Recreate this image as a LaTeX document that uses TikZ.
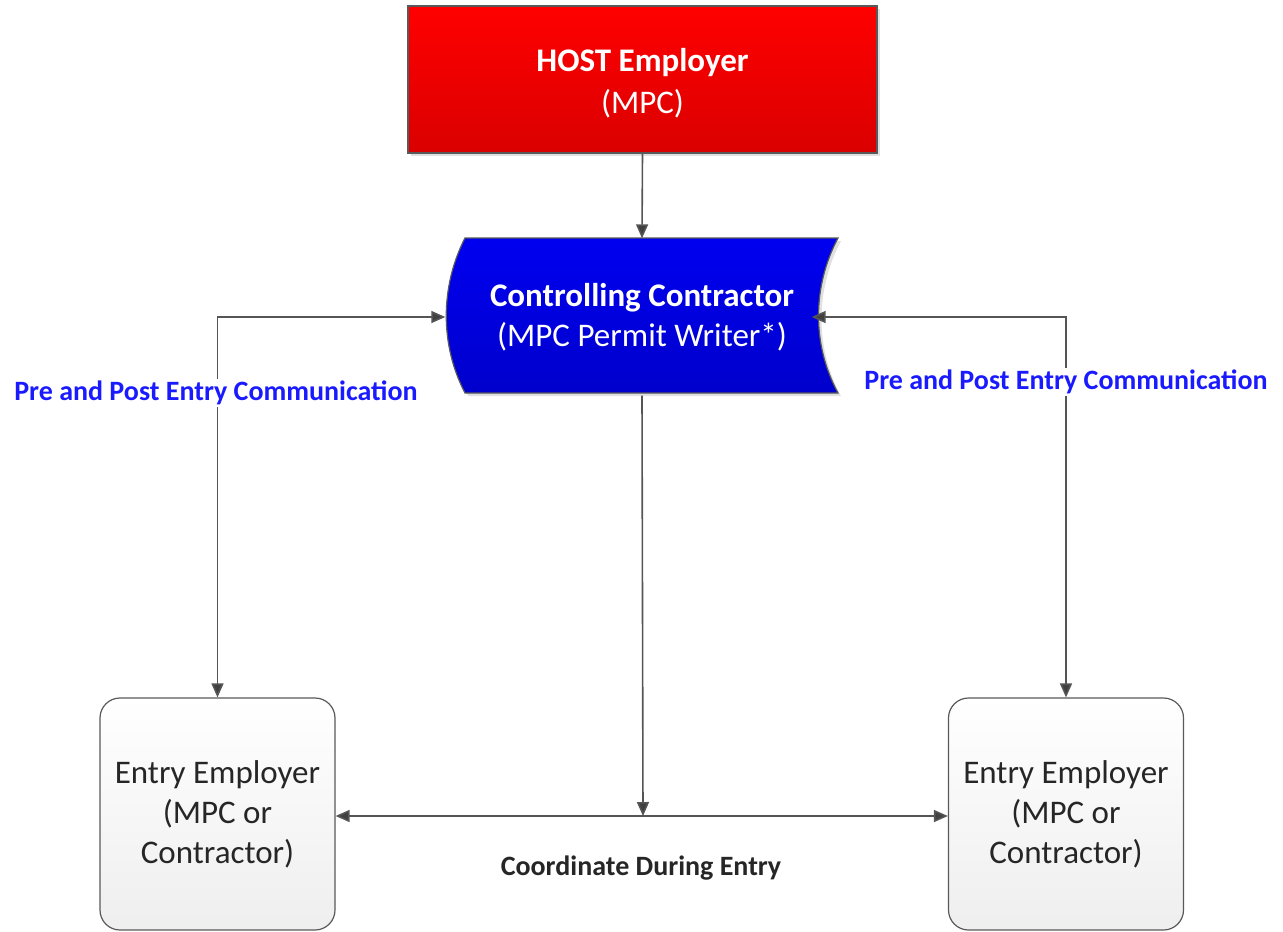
\documentclass[tikz,border=0pt]{standalone}
\usepackage{fontspec}
\setmainfont{Carlito}
\usetikzlibrary{arrows.meta,shadows}
\definecolor{linec}{HTML}{555555}
\definecolor{tipc}{HTML}{404040}
\definecolor{lblue}{HTML}{1A1AFF}
\definecolor{hostbot}{HTML}{DA0000}
\definecolor{ccblue}{HTML}{0000F0}
\tikzset{
  conn/.style={draw=linec, line width=1.6pt, -{Triangle[length=14pt,width=12pt,fill=tipc]}},
  conn2/.style={draw=linec, line width=1.6pt, {Triangle[length=14pt,width=12pt,fill=tipc]}-{Triangle[length=14pt,width=12pt,fill=tipc]}},
  hostbox/.style={draw=black!65, line width=1.2pt, top color=red, bottom color=hostbot, minimum width=469pt, minimum height=147pt, text=white, align=center, font=\fontsize{33}{42}\selectfont, drop shadow={shadow xshift=3pt, shadow yshift=-3pt, fill=gray!40, opacity=0.6}},
  entrybox/.style={draw=black!65, line width=1.2pt, rounded corners=20pt, top color=white, bottom color=gray!13, minimum width=235pt, minimum height=232pt, align=center, text=black!85, font=\fontsize{33}{40}\selectfont},
  ghost/.style={draw=none, minimum width=393pt, minimum height=157pt, align=center, text=white, font=\fontsize{33}{40}\selectfont},
  lbl/.style={font=\bfseries\fontsize{28}{32}\selectfont, text=lblue, fill=white, inner sep=2pt},
  blbl/.style={font=\bfseries\fontsize{28}{32}\selectfont, text=black!85},
}
\begin{document}
\begin{tikzpicture}[x=1pt,y=-1pt]
\useasboundingbox (0,0) rectangle (1283,932);
% host
\node[hostbox] (host) at (642.5,79.5) {};
\node[text=white, align=center, font=\fontsize{33}{42}\selectfont] (hosttext) at (642.5,83) {\textbf{HOST Employer}\\(MPC)};
% controlling contractor shape
\fill[gray!40, opacity=0.6] (468,241) -- (841,241) .. controls (815,290) and (815,348) .. (841,396) -- (468,396) .. controls (443,348) and (443,290) .. (468,241) -- cycle;
\draw[draw=black!65, line width=1.2pt, top color=ccblue, bottom color=ccblue!85!black] (465,238) -- (838,238) .. controls (812,287) and (812,345) .. (838,393) -- (465,393) .. controls (440,345) and (440,287) .. (465,238) -- cycle;
\node[ghost] (cc) at (642,317) {\textbf{Controlling Contractor}\\(MPC Permit Writer*)};
% entry boxes
\node[entrybox] (le) at (217.5,814) {Entry Employer\\(MPC or\\Contractor)};
\node[entrybox] (re) at (1066,814) {Entry Employer\\(MPC or\\Contractor)};
% connectors
\draw[conn] (host.south) -- (cc.north);
\coordinate (jn) at (643,816);
\draw[conn] (cc.south) -- (jn);
\draw[conn2] (le.east |- jn) -- (re.west |- jn);
\draw[conn2] (le.north) |- ([yshift=0pt]cc.west);
\draw[conn2] (re.north) |- ([xshift=-27pt,yshift=0pt]cc.east);
% labels
\node[lbl] (l1) at (216,393) {Pre and Post Entry Communication};
\node[lbl] (l2) at (1066,382) {Pre and Post Entry Communication};
\node[blbl] (l3) at (641,868) {Coordinate During Entry};
\end{tikzpicture}
\end{document}
